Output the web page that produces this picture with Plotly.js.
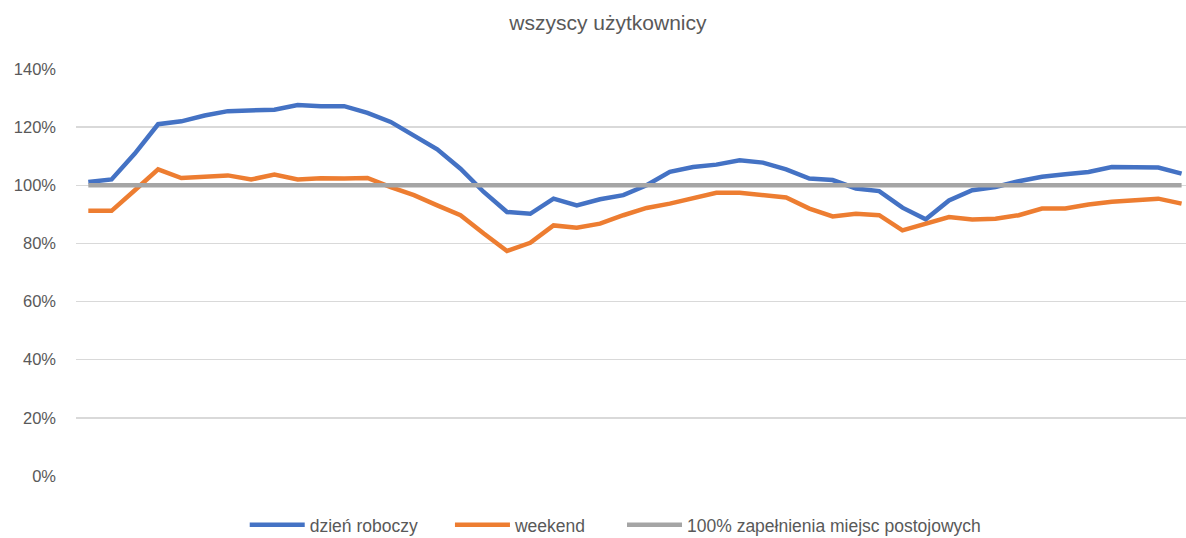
<!DOCTYPE html>
<html>
<head>
<meta charset="utf-8">
<script src="https://cdn.plot.ly/plotly-3.0.1.min.js"></script>
<style>html,body{margin:0;padding:0;background:#fff;}#chart{width:1186px;height:538px;}</style>
</head>
<body>
<div id="chart"></div>
<script>
const slots = Array.from({length: 48}, (_, i) => i);
const workday = [101.1,102,110.9,121,122,124,125.5,125.6,126,127.6,127.2,127.2,124.9,121.8,117.2,112.4,
  105.7,97.7,90.8,90.2,95.4,93.1,95.2,96.6,100,104.6,106.3,107.1,108.6,107.8,105.5,102.3,
  101.8,98.9,98,92.3,88.3,94.8,98.3,99.4,101.4,102.9,103.8,104.6,106.3,106.3,106.1,104];
const weekend = [91.2,91.2,98.3,105.5,102.5,103.1,103.4,102,103.7,102,102.4,102.3,102.5,99.4,96.6,93.1,
  89.7,83.4,77.4,80.2,86.2,85.4,86.8,89.7,92.2,93.7,95.6,97.4,97.4,96.6,95.8,92,
  89.3,90.2,89.7,84.5,86.8,89.1,88.2,88.5,89.7,92,92,93.4,94.3,94.8,95.4,93.7];
const full = slots.map(() => 100);
const names = ['dzień roboczy', 'weekend', '100% zapełnienia miejsc postojowych'];
const titleText = 'wszyscy użytkownicy';

const FONT = '"Liberation Sans", Arial, sans-serif';
const mk = (y, name, color, leg) => ({
  x: slots, y: y.map(v => v / 100), name: name, type: 'scatter', mode: 'lines',
  line: {color: color, width: 4.5}, hoverinfo: 'skip', legend: leg
});
const data = [
  mk(workday, names[0], '#4472C4', 'legend'),
  mk(weekend, names[1], '#ED7D31', 'legend2'),
  mk(full, names[2], '#A5A5A5', 'legend3')
];
const legBase = (x) => ({orientation: 'h', x: x, xanchor: 'left', y: -0.12, yanchor: 'middle',
  font: {family: FONT, size: 17.5, color: '#595959'}, itemwidth: 55, bgcolor: 'rgba(0,0,0,0)'});
const layout = {
  width: 1186, height: 538,
  margin: {l: 76, r: 0, t: 69, b: 62, autoexpand: false},
  paper_bgcolor: '#fff', plot_bgcolor: '#fff',
  font: {family: FONT, size: 17, color: '#595959'},
  title: {text: titleText, x: 0.5126, xref: 'container', y: 0.958, yref: 'container', yanchor: 'middle', font: {family: FONT, size: 21, color: '#595959'}},
  xaxis: {range: [-0.529, 47.19], showgrid: false, zeroline: false, showticklabels: false, ticks: '', showline: false, fixedrange: true},
  yaxis: {range: [0, 1.4], dtick: 0.2, tickformat: '.0%', gridcolor: '#D9D9D9', gridwidth: 1.3, zeroline: false, showline: false, ticks: '', ticklabelstandoff: 19, tickfont: {family: FONT, size: 16.5, color: '#595959'}, fixedrange: true},
  showlegend: true,
  legend: legBase(0.152),
  legend2: legBase(0.3369),
  legend3: legBase(0.4919)
};
Plotly.newPlot('chart', data, layout, {displayModeBar: false, staticPlot: true});
</script>
</body>
</html>
